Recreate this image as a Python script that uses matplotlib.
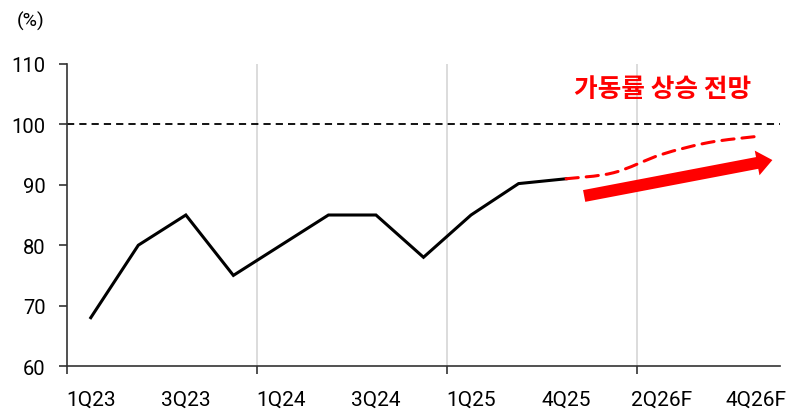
import numpy as np
import matplotlib
matplotlib.use("Agg")
import matplotlib.pyplot as plt
from matplotlib.path import Path
from matplotlib.patches import PathPatch, FancyArrowPatch

# quarterly utilisation rate (%), 15 quarterly slots on the category axis
actual = [68, 80, 85, 75, 80, 85, 85, 78, 85, 90.2, 91]
forecast = [91, 92, 95, 97, 98]
tick_labels = ['1Q23', '3Q23', '1Q24', '3Q24', '1Q25', '4Q25', '2Q26F', '4Q26F']
n_slots = len(actual) + len(forecast) - 1

plt.rcParams['font.family'] = ['Roboto', 'DejaVu Sans']

fig = plt.figure(figsize=(7.93, 4.14), dpi=100)
ax = fig.add_axes([0.0845, 0.1135, 0.8991, 0.7295])

x_act = np.arange(len(actual))
x_fc = np.arange(len(actual) - 1, n_slots)

ax.plot(x_act, actual, color='black', lw=2.2, solid_joinstyle='miter', zorder=3)


def smooth_path(xs, ys):
    # catmull-rom style smoothing, like excel's smoothed line
    pts = np.column_stack([xs, ys]).astype(float)
    ext = np.vstack([pts[0], pts, pts[-1]])
    verts = [pts[0]]
    codes = [Path.MOVETO]
    for i in range(1, len(ext) - 2):
        p0, p1, p2, p3 = ext[i - 1], ext[i], ext[i + 1], ext[i + 2]
        verts += [p1 + (p2 - p0) / 6, p2 - (p3 - p1) / 6, p2]
        codes += [Path.CURVE4] * 3
    return Path(verts, codes)


ax.add_patch(PathPatch(smooth_path(x_fc, forecast), fill=False, edgecolor='#ff0000',
                       lw=2.2, linestyle=(0, (4, 2.6)), capstyle='round', zorder=3))

# 100% reference line
ax.axhline(100, color='black', lw=1.3, linestyle=(0, (4, 2.8)), zorder=2)

# year separators
for xv in np.arange(3.5, n_slots - 1, 4):
    ax.axvline(xv, color='#d9d9d9', lw=1.3, zorder=1)

ax.add_patch(FancyArrowPatch((10.38, 88.15), (14.34, 94.1),
                             arrowstyle='simple,head_width=2.1,head_length=1.3,tail_width=1',
                             mutation_scale=8.6, color='#ff0000', shrinkA=0, shrinkB=0,
                             lw=0, zorder=4))

ax.text(12.03, 106.0, '가동률 상승 전망', color='#ff0000', fontsize=18.5, fontweight='bold',
        family=['Noto Sans CJK KR', 'DejaVu Sans'], ha='center', va='center')

ax.set_xlim(-0.5, n_slots - 0.5)
ax.set_ylim(60, 110)
ax.set_yticks(np.arange(60, 111, 10))

ax.set_xticks(np.arange(-0.5, n_slots - 1, 4))
ax.set_xticklabels([])
ax.set_xticks(np.arange(0, n_slots, 2), minor=True)
ax.set_xticklabels(tick_labels, minor=True)

ax.tick_params(axis='x', which='major', length=5.5, width=1.2, color='#333333', direction='out')
ax.tick_params(axis='x', which='minor', length=0, pad=17, labelsize=15)
ax.tick_params(axis='y', length=5.5, width=1.2, color='#333333', direction='out',
               pad=10, labelsize=14.5)

for side in ['top', 'right']:
    ax.spines[side].set_visible(False)
for side in ['left', 'bottom']:
    ax.spines[side].set_color('#333333')
    ax.spines[side].set_linewidth(1.2)

fig.text(31 / 793, 1 - 21 / 414, '(%)', fontsize=14, ha='center', va='center')

fig.savefig('out.png', dpi=100)
